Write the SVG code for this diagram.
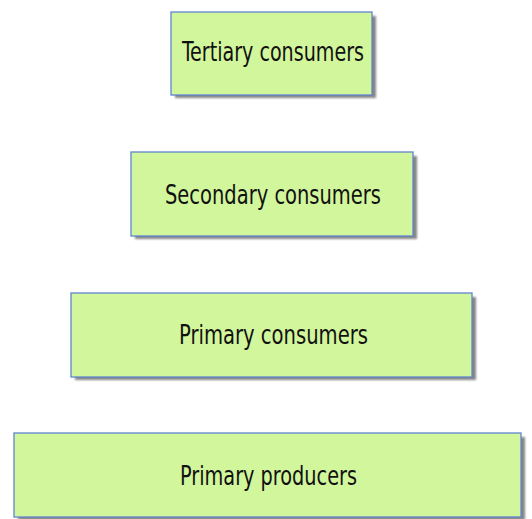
<svg xmlns="http://www.w3.org/2000/svg" width="532" height="519" viewBox="0 0 532 519">
<style>
.box{fill:#d2f69b;stroke:#5f85cf;stroke-width:1.3}
.sh{fill:#858585;filter:url(#blur)}
.lbl{font-family:"DejaVu Sans Condensed","DejaVu Sans",sans-serif;font-size:27px;fill:#111;text-anchor:middle}
</style>
<defs>
<filter id="blur" x="-5%" y="-5%" width="110%" height="120%"><feGaussianBlur stdDeviation="1.1"/></filter>
</defs>
<rect width="532" height="519" fill="#fff"/>
<g id="tertiary">
<rect class="sh" x="175" y="16" width="201" height="82"/>
<rect class="box" x="171" y="12" width="201" height="83"/>
<text class="lbl" x="273" y="61" textLength="182" lengthAdjust="spacingAndGlyphs">Tertiary consumers</text>
</g>
<g id="secondary">
<rect class="sh" x="135" y="156" width="282" height="83"/>
<rect class="box" x="131" y="152" width="282" height="84"/>
<text class="lbl" x="273" y="204" textLength="216" lengthAdjust="spacingAndGlyphs">Secondary consumers</text>
</g>
<g id="primary-consumers">
<rect class="sh" x="75" y="297" width="401" height="83"/>
<rect class="box" x="71" y="293" width="401" height="84"/>
<text class="lbl" x="273.5" y="344" textLength="189" lengthAdjust="spacingAndGlyphs">Primary consumers</text>
</g>
<g id="primary-producers">
<rect class="sh" x="18" y="437" width="507" height="83"/>
<rect class="box" x="14" y="433" width="507" height="84"/>
<text class="lbl" x="268.5" y="485" textLength="177" lengthAdjust="spacingAndGlyphs">Primary producers</text>
</g>
<g id="connectors"/>
</svg>
